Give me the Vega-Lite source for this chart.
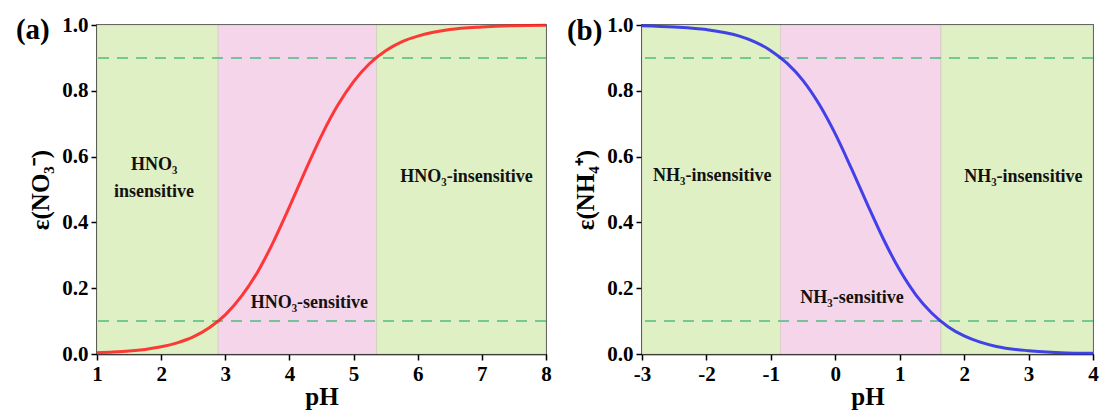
{
  "$schema": "https://vega.github.io/schema/vega-lite/v6.json",
  "background": "white",
  "padding": {"left": 15, "top": 13, "right": 5, "bottom": 5},
  "spacing": 13,
  "config": {
    "font": "Liberation Serif",
    "view": {"stroke": "#000000", "strokeWidth": 1.5},
    "axis": {
      "grid": false,
      "domainColor": "#000000",
      "domainWidth": 1.5,
      "tickColor": "#000000",
      "tickWidth": 1.5,
      "labelColor": "#000000",
      "labelFont": "Liberation Serif",
      "labelFontWeight": "bold",
      "labelFontSize": 21,
      "titleColor": "#000000",
      "titleFont": "Liberation Serif",
      "titleFontWeight": "bold",
      "titleFontSize": 25
    }
  },
  "datasets": {
    "zonesA": [
      {"start": 1, "end": 2.89, "zone": "insensitive"},
      {"start": 2.89, "end": 5.36, "zone": "sensitive"},
      {"start": 5.36, "end": 8, "zone": "insensitive"}
    ],
    "zonesB": [
      {"start": -3, "end": -0.85, "zone": "insensitive"},
      {"start": -0.85, "end": 1.64, "zone": "sensitive"},
      {"start": 1.64, "end": 4, "zone": "insensitive"}
    ],
    "nitrate": [
      {"pH": 1.0, "eps": 0.004}, {"pH": 1.25, "eps": 0.006}, {"pH": 1.5, "eps": 0.009},
      {"pH": 1.75, "eps": 0.014}, {"pH": 2.0, "eps": 0.022}, {"pH": 2.25, "eps": 0.034},
      {"pH": 2.5, "eps": 0.052}, {"pH": 2.75, "eps": 0.08}, {"pH": 3.0, "eps": 0.119},
      {"pH": 3.25, "eps": 0.175}, {"pH": 3.5, "eps": 0.248}, {"pH": 3.75, "eps": 0.341},
      {"pH": 4.0, "eps": 0.447}, {"pH": 4.25, "eps": 0.558}, {"pH": 4.5, "eps": 0.664},
      {"pH": 4.75, "eps": 0.755}, {"pH": 5.0, "eps": 0.828}, {"pH": 5.25, "eps": 0.883},
      {"pH": 5.5, "eps": 0.922}, {"pH": 5.75, "eps": 0.949}, {"pH": 6.0, "eps": 0.966},
      {"pH": 6.5, "eps": 0.986}, {"pH": 7.0, "eps": 0.994}, {"pH": 7.5, "eps": 0.998},
      {"pH": 8.0, "eps": 0.999}
    ],
    "ammonium": [
      {"pH": -3.0, "eps": 0.998}, {"pH": -2.5, "eps": 0.994}, {"pH": -2.0, "eps": 0.986},
      {"pH": -1.5, "eps": 0.967}, {"pH": -1.25, "eps": 0.949}, {"pH": -1.0, "eps": 0.922},
      {"pH": -0.75, "eps": 0.884}, {"pH": -0.5, "eps": 0.831}, {"pH": -0.25, "eps": 0.759},
      {"pH": 0.0, "eps": 0.669}, {"pH": 0.25, "eps": 0.564}, {"pH": 0.5, "eps": 0.454},
      {"pH": 0.75, "eps": 0.348}, {"pH": 1.0, "eps": 0.255}, {"pH": 1.25, "eps": 0.18},
      {"pH": 1.5, "eps": 0.124}, {"pH": 1.75, "eps": 0.083}, {"pH": 2.0, "eps": 0.055},
      {"pH": 2.25, "eps": 0.036}, {"pH": 2.5, "eps": 0.023}, {"pH": 3.0, "eps": 0.01},
      {"pH": 3.5, "eps": 0.004}, {"pH": 4.0, "eps": 0.002}
    ],
    "thresholds": [{"level": 0.9}, {"level": 0.1}],
    "labelsA": [
      {"pH": 1.89, "eps": 0.574, "text": "HNO₃\ninsensitive"},
      {"pH": 6.76, "eps": 0.538, "text": "HNO₃-insensitive"},
      {"pH": 4.31, "eps": 0.155, "text": "HNO₃-sensitive"}
    ],
    "labelsB": [
      {"pH": -1.91, "eps": 0.541, "text": "NH₃-insensitive"},
      {"pH": 2.92, "eps": 0.538, "text": "NH₃-insensitive"},
      {"pH": 0.26, "eps": 0.17, "text": "NH₃-sensitive"}
    ],
    "panelA": [{"pH": 0.0, "eps": 0.986, "text": "(a)"}],
    "panelB": [{"pH": -3.89, "eps": 0.982, "text": "(b)"}]
  },
  "hconcat": [
    {
      "width": 449,
      "height": 329,
      "layer": [
        {
          "data": {"name": "zonesA"},
          "mark": {"type": "rect", "stroke": "#cfc7b8", "strokeWidth": 0.6},
          "encoding": {
            "x": {"field": "start", "type": "quantitative", "scale": {"domain": [1, 8], "nice": false, "zero": false}},
            "x2": {"field": "end"},
            "y": {"datum": 0, "type": "quantitative", "scale": {"domain": [0, 1], "nice": false}},
            "y2": {"datum": 1},
            "color": {"field": "zone", "type": "nominal", "scale": {"domain": ["insensitive", "sensitive"], "range": ["#dff0c4", "#f5d5e9"]}, "legend": null}
          }
        },
        {
          "data": {"name": "thresholds"},
          "mark": {"type": "rule", "color": "#45b87a", "opacity": 0.7, "strokeWidth": 2, "strokeDash": [11, 8]},
          "encoding": {
            "y": {"field": "level", "type": "quantitative"}
          }
        },
        {
          "data": {"name": "nitrate"},
          "mark": {"type": "line", "color": "#ff1a1a", "opacity": 0.85, "strokeWidth": 3, "interpolate": "monotone"},
          "encoding": {
            "x": {
              "field": "pH", "type": "quantitative",
              "axis": {
                "title": "pH", "titlePadding": 0,
                "values": [1, 1.5, 2, 2.5, 3, 3.5, 4, 4.5, 5, 5.5, 6, 6.5, 7, 7.5, 8],
                "format": "d",
                "labelExpr": "datum.value % 1 === 0 ? datum.label : ''",
                "tickSize": {"condition": {"test": "datum.value % 1 === 0", "value": 6}, "value": 3},
                "labelPadding": 3, "labelFlush": false
              }
            },
            "y": {
              "field": "eps", "type": "quantitative",
              "axis": {
                "title": "ε(NO₃⁻)", "titlePadding": 8,
                "values": [0, 0.1, 0.2, 0.3, 0.4, 0.5, 0.6, 0.7, 0.8, 0.9, 1.0],
                "format": ".1f",
                "labelExpr": "round(datum.value * 10) % 2 === 0 ? datum.label : ''",
                "tickSize": {"condition": {"test": "round(datum.value * 10) % 2 === 0", "value": 6}, "value": 3},
                "labelPadding": 3, "labelFlush": false
              }
            }
          }
        },
        {
          "data": {"name": "labelsA"},
          "mark": {"type": "text", "font": "Liberation Serif", "fontWeight": "bold", "fontSize": 18, "color": "#111111", "lineBreak": "\n", "baseline": "middle", "lineHeight": 27},
          "encoding": {
            "x": {"field": "pH", "type": "quantitative"},
            "y": {"field": "eps", "type": "quantitative"},
            "text": {"field": "text"}
          }
        },
        {
          "data": {"name": "panelA"},
          "mark": {"type": "text", "font": "Liberation Serif", "fontWeight": "bold", "fontSize": 29, "color": "#000000", "baseline": "middle"},
          "encoding": {
            "x": {"field": "pH", "type": "quantitative"},
            "y": {"field": "eps", "type": "quantitative"},
            "text": {"field": "text"}
          }
        }
      ]
    },
    {
      "width": 451,
      "height": 329,
      "layer": [
        {
          "data": {"name": "zonesB"},
          "mark": {"type": "rect", "stroke": "#cfc7b8", "strokeWidth": 0.6},
          "encoding": {
            "x": {"field": "start", "type": "quantitative", "scale": {"domain": [-3, 4], "nice": false, "zero": false}},
            "x2": {"field": "end"},
            "y": {"datum": 0, "type": "quantitative", "scale": {"domain": [0, 1], "nice": false}},
            "y2": {"datum": 1},
            "color": {"field": "zone", "type": "nominal", "scale": {"domain": ["insensitive", "sensitive"], "range": ["#dff0c4", "#f5d5e9"]}, "legend": null}
          }
        },
        {
          "data": {"name": "thresholds"},
          "mark": {"type": "rule", "color": "#45b87a", "opacity": 0.7, "strokeWidth": 2, "strokeDash": [11, 8]},
          "encoding": {
            "y": {"field": "level", "type": "quantitative"}
          }
        },
        {
          "data": {"name": "ammonium"},
          "mark": {"type": "line", "color": "#2a2ae8", "opacity": 0.88, "strokeWidth": 3, "interpolate": "monotone"},
          "encoding": {
            "x": {
              "field": "pH", "type": "quantitative",
              "axis": {
                "title": "pH", "titlePadding": 0,
                "values": [-3, -2.5, -2, -1.5, -1, -0.5, 0, 0.5, 1, 1.5, 2, 2.5, 3, 3.5, 4],
                "format": "d",
                "labelExpr": "datum.value % 1 === 0 ? replace(datum.label, '−', '-') : ''",
                "tickSize": {"condition": {"test": "datum.value % 1 === 0", "value": 6}, "value": 3},
                "labelPadding": 3, "labelFlush": false
              }
            },
            "y": {
              "field": "eps", "type": "quantitative",
              "axis": {
                "title": "ε(NH₄⁺)", "titlePadding": 8,
                "values": [0, 0.1, 0.2, 0.3, 0.4, 0.5, 0.6, 0.7, 0.8, 0.9, 1.0],
                "format": ".1f",
                "labelExpr": "round(datum.value * 10) % 2 === 0 ? datum.label : ''",
                "tickSize": {"condition": {"test": "round(datum.value * 10) % 2 === 0", "value": 6}, "value": 3},
                "labelPadding": 3, "labelFlush": false
              }
            }
          }
        },
        {
          "data": {"name": "labelsB"},
          "mark": {"type": "text", "font": "Liberation Serif", "fontWeight": "bold", "fontSize": 18, "color": "#111111", "baseline": "middle"},
          "encoding": {
            "x": {"field": "pH", "type": "quantitative"},
            "y": {"field": "eps", "type": "quantitative"},
            "text": {"field": "text"}
          }
        },
        {
          "data": {"name": "panelB"},
          "mark": {"type": "text", "font": "Liberation Serif", "fontWeight": "bold", "fontSize": 29, "color": "#000000", "baseline": "middle"},
          "encoding": {
            "x": {"field": "pH", "type": "quantitative"},
            "y": {"field": "eps", "type": "quantitative"},
            "text": {"field": "text"}
          }
        }
      ]
    }
  ]
}
